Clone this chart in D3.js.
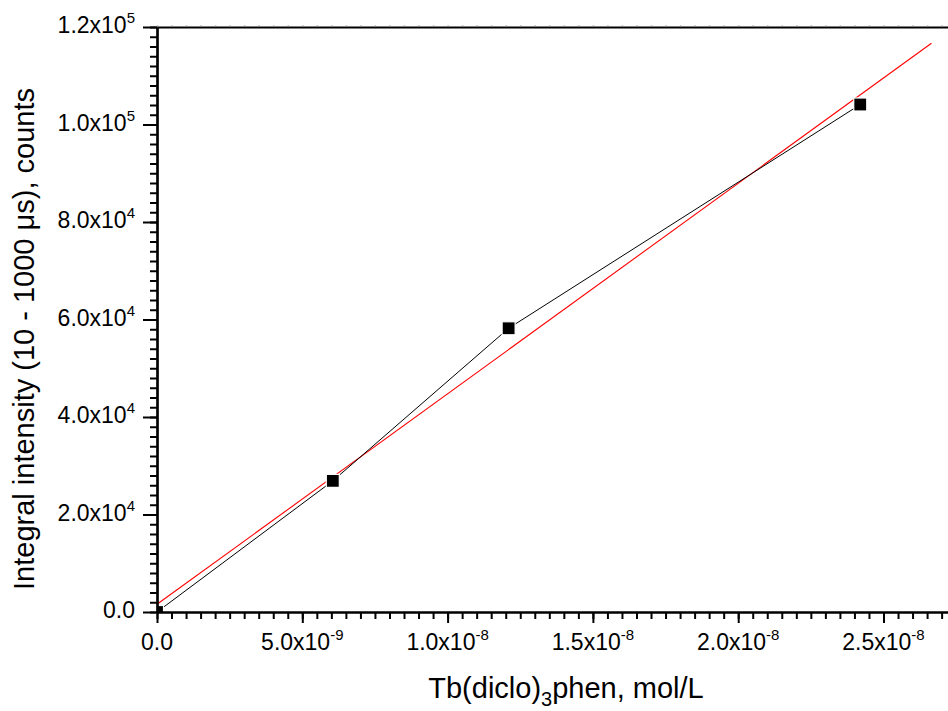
<!DOCTYPE html>
<html>
<head>
<meta charset="utf-8">
<script src="https://cdn.jsdelivr.net/npm/d3@7"></script>
<style>
  body { margin: 0; background: #fff; }
  svg { display: block; font-family: "Liberation Sans", Arial, sans-serif; }
</style>
</head>
<body>
<div id="chart"></div>
<script>
// tamaño de la ventana
const width = 948,
  height = 711;

// datos
const concentration = [0, 6.05e-9, 1.21e-8, 2.42e-8];   // mol/L
const intensity = [0, 26900, 58200, 104100];             // counts
const fitRange = [0, 2.665e-8];                          // extension de la recta de ajuste

// marcas de los ejes
const xTicks = [0, 5e-9, 1e-8, 1.5e-8, 2e-8, 2.5e-8];
const xTickMantissa = ["0.0", "5.0x10", "1.0x10", "1.5x10", "2.0x10", "2.5x10"];
const xTickExponent = ["", "-9", "-8", "-8", "-8", "-8"];
const yTicks = [0, 20000, 40000, 60000, 80000, 100000, 120000];
const yTickMantissa = ["0.0", "2.0x10", "4.0x10", "6.0x10", "8.0x10", "1.0x10", "1.2x10"];
const yTickExponent = ["", "4", "4", "4", "4", "5", "5"];

const data = concentration.map((c, i) => ({ x: c, y: intensity[i] }));

// ajuste lineal (minimos cuadrados)
const mx = d3.mean(data, d => d.x), my = d3.mean(data, d => d.y);
const slope = d3.sum(data, d => (d.x - mx) * (d.y - my)) / d3.sum(data, d => (d.x - mx) ** 2);
const intercept = my - slope * mx;
const fit = fitRange.map(x => ({ x: x, y: intercept + slope * x }));

// area del grafico
const plotLeft = 157, plotTop = 27, plotBottom = 612;
const xScale = d3.scaleLinear().domain([0, 3e-8]).range([plotLeft, plotLeft + 6 * 145.3]);
const yScale = d3.scaleLinear().domain([0, 120000]).range([plotBottom, plotTop]);

const svg = d3.select("#chart").append("svg")
  .attr("width", width).attr("height", height);

svg.append("defs").append("clipPath").attr("id", "plot")
  .append("rect")
  .attr("x", plotLeft).attr("y", plotTop)
  .attr("width", width - plotLeft).attr("height", plotBottom - plotTop);

const plot = svg.append("g").attr("clip-path", "url(#plot)");

// recta de ajuste
plot.append("path")
  .datum(fit)
  .attr("fill", "none")
  .attr("stroke", "#ff0000")
  .attr("stroke-width", 1.1)
  .attr("d", d3.line().x(d => xScale(d.x)).y(d => yScale(d.y)));

// linea de datos
plot.append("path")
  .datum(data)
  .attr("fill", "none")
  .attr("stroke", "#000")
  .attr("stroke-width", 1)
  .attr("d", d3.line().x(d => xScale(d.x)).y(d => yScale(d.y)));

// marcadores cuadrados
const s = 13;
plot.selectAll("rect.pt")
  .data(data)
  .enter()
  .append("rect")
  .attr("class", "pt")
  .attr("x", d => xScale(d.x) - s / 2)
  .attr("y", d => yScale(d.y) - s / 2)
  .attr("width", s).attr("height", s)
  .attr("fill", "#000")
  .attr("stroke", "#fff")
  .attr("stroke-width", 1.2);

// ticks menores
const xMinor = d3.range(0, 61).map(i => i * 5e-10).filter(v => xScale(v) <= width + 2);
const yMinor = d3.range(0, 61).map(i => i * 2000);

function styleAxis(g) {
  g.select(".domain").attr("stroke-width", 2.2);
  g.selectAll(".tick line").attr("stroke-width", 2);
  g.selectAll(".tick text").remove();
}

// eje X inferior
svg.append("g")
  .attr("transform", `translate(0,${plotBottom})`)
  .call(d3.axisBottom(xScale).tickValues(xMinor).tickSize(7).tickSizeOuter(0))
  .call(styleAxis);
svg.append("g")
  .attr("transform", `translate(0,${plotBottom})`)
  .call(d3.axisBottom(xScale).tickValues(xTicks).tickSize(11).tickSizeOuter(0))
  .call(styleAxis);

// eje X superior
svg.append("g")
  .attr("transform", `translate(0,${plotTop})`)
  .call(d3.axisTop(xScale).tickValues(xMinor).tickSize(1.5).tickSizeOuter(0))
  .call(styleAxis)
  .call(g => g.selectAll(".tick line").attr("stroke", "#888").attr("stroke-width", 1.5));

// eje Y izquierdo
svg.append("g")
  .attr("transform", `translate(${plotLeft},0)`)
  .call(d3.axisLeft(yScale).tickValues(yMinor).tickSize(7).tickSizeOuter(0))
  .call(styleAxis);
svg.append("g")
  .attr("transform", `translate(${plotLeft},0)`)
  .call(d3.axisLeft(yScale).tickValues(yTicks).tickSize(14).tickSizeOuter(0))
  .call(styleAxis);

// etiquetas del eje X
const xLab = svg.append("g").selectAll("text")
  .data(xTicks)
  .enter()
  .append("text")
  .attr("x", d => xScale(d))
  .attr("y", 650)
  .attr("text-anchor", "middle")
  .attr("font-size", 23)
  .attr("fill", "#000");
xLab.append("tspan").text((d, i) => xTickMantissa[i]);
xLab.append("tspan").attr("dy", -10).attr("font-size", 15).text((d, i) => xTickExponent[i]);

// etiquetas del eje Y
const yLab = svg.append("g").selectAll("text")
  .data(yTicks)
  .enter()
  .append("text")
  .attr("x", 135)
  .attr("y", d => yScale(d) + 6)
  .attr("text-anchor", "end")
  .attr("font-size", 23)
  .attr("fill", "#000");
yLab.append("tspan").text((d, i) => yTickMantissa[i]);
yLab.append("tspan").attr("dy", -10).attr("font-size", 15).text((d, i) => yTickExponent[i]);

// titulo eje X
const xTitle = svg.append("text")
  .attr("x", 566)
  .attr("y", 698)
  .attr("text-anchor", "middle")
  .attr("font-size", 29)
  .attr("fill", "#000");
xTitle.append("tspan").text("Tb(diclo)");
xTitle.append("tspan").attr("dy", 8).attr("font-size", 20).text("3");
xTitle.append("tspan").attr("dy", -8).text("phen, mol/L");

// titulo eje Y
svg.append("text")
  .attr("transform", "translate(34,339) rotate(-90)")
  .attr("text-anchor", "middle")
  .attr("font-size", 29)
  .attr("fill", "#000")
  .text("Integral intensity (10 - 1000 \u03bcs), counts");
</script>
</body>
</html>
